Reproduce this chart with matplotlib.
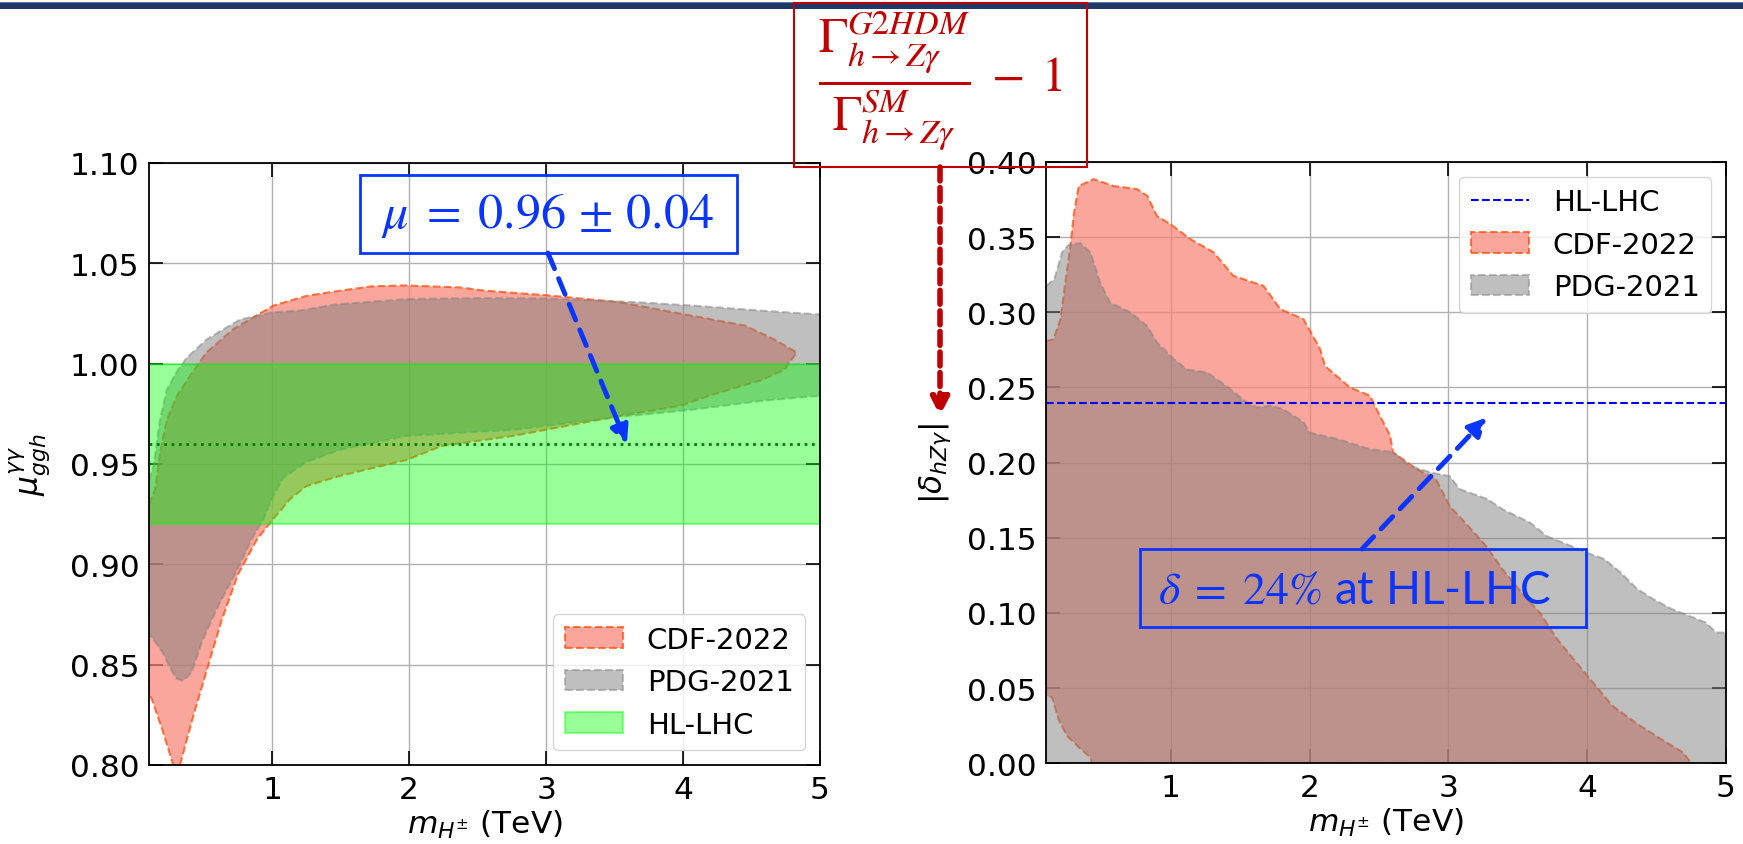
import numpy as np
import matplotlib
matplotlib.use('Agg')
import matplotlib.pyplot as plt
from matplotlib.patches import Rectangle

# ---- left panel: mu_ggh^gamma-gamma vs charged Higgs mass ----
cdf_mu_hi_x = [0.10, 0.13, 0.146, 0.182, 0.23, 0.304, 0.40, 0.52, 0.716, 1.007, 1.25, 1.49,
               1.72, 1.96, 2.37, 2.55, 3.02, 3.54, 3.93, 4.45, 4.66, 4.83]
cdf_mu_hi = [0.930, 0.935, 0.938, 0.956, 0.972, 0.984, 0.994, 1.0056, 1.0172, 1.0289, 1.0338, 1.0363,
             1.0385, 1.039, 1.038, 1.0364, 1.034, 1.0306, 1.0256, 1.019, 1.0123, 1.0056]
cdf_mu_lo_x = [0.10, 0.12, 0.20, 0.25, 0.29, 0.31, 0.33, 0.43, 0.53, 0.63, 0.75, 0.89, 1.007,
               1.13, 1.25, 1.49, 1.98, 2.24, 2.76, 3.15, 3.54, 3.98, 4.19, 4.58, 4.74, 4.83]
cdf_mu_lo = [0.835, 0.833, 0.817, 0.806, 0.797, 0.797, 0.801, 0.826, 0.849, 0.872, 0.895, 0.9126, 0.9225,
             0.9325, 0.939, 0.944, 0.952, 0.959, 0.964, 0.969, 0.974, 0.979, 0.984, 0.992, 0.997, 1.0056]

pdg_mu_hi_x = [0.10, 0.133, 0.18, 0.23, 0.30, 0.376, 0.52, 0.64, 0.765, 1.007, 1.2, 1.46, 1.98,
               2.5, 3.02, 3.67, 4.06, 4.58, 5.0]
pdg_mu_hi = [0.942, 0.949, 0.972, 0.987, 0.9957, 1.003, 1.012, 1.017, 1.022, 1.0256, 1.0265, 1.0295, 1.0322,
             1.0327, 1.0325, 1.0306, 1.029, 1.0264, 1.0245]
pdg_mu_lo_x = [0.10, 0.15, 0.20, 0.25, 0.30, 0.35, 0.41, 0.49, 0.61, 0.735, 0.85, 0.935, 1.007,
               1.08, 1.25, 1.49, 1.98, 2.76, 3.54, 4.06, 4.58, 5.0]
pdg_mu_lo = [0.865, 0.861, 0.856, 0.849, 0.843, 0.842, 0.846, 0.862, 0.880, 0.896, 0.9126, 0.9225, 0.934,
             0.943, 0.951, 0.957, 0.964, 0.967, 0.9735, 0.977, 0.9815, 0.984]

mu_central = 0.96
mu_err = 0.04

# ---- right panel: |delta_hZgamma| vs charged Higgs mass ----
cdf_d_x = [0.10, 0.154, 0.204, 0.24, 0.276, 0.30, 0.336, 0.443, 0.587, 0.756, 0.83, 0.90, 0.996,
           1.14, 1.307, 1.45, 1.667, 1.79, 1.955, 2.076, 2.11, 2.29, 2.435, 2.507, 2.58, 2.60,
           2.77, 2.91, 3.01, 3.16, 3.27, 3.39, 3.47, 3.54, 3.66, 3.78, 3.98, 4.18, 4.38, 4.53,
           4.69, 4.75]
cdf_d = [0.281, 0.282, 0.2955, 0.320, 0.344, 0.365, 0.384, 0.3886, 0.384, 0.382, 0.3775, 0.364, 0.3587,
         0.3487, 0.340, 0.3243, 0.3176, 0.302, 0.2955, 0.2755, 0.2644, 0.250, 0.2445, 0.231, 0.218, 0.207,
         0.1957, 0.189, 0.171, 0.156, 0.1447, 0.129, 0.120, 0.112, 0.100, 0.083, 0.0605, 0.0383, 0.025, 0.0162,
         0.0073, 0.0]
cdf_d_low_x = [0.43, 0.42, 0.35, 0.25, 0.19, 0.144, 0.10]
cdf_d_low = [0.0, 0.004, 0.0095, 0.0184, 0.0295, 0.0439, 0.045]

pdg_d_x = [0.10, 0.16, 0.216, 0.264, 0.348, 0.42, 0.49, 0.56, 0.708, 0.828, 0.90, 1.02, 1.116,
           1.26, 1.40, 1.548, 1.62, 1.72, 1.81, 1.955, 2.0, 2.2, 2.435, 2.6, 2.72, 2.87, 3.01,
           3.08, 3.28, 3.39, 3.59, 3.71, 3.88, 4.0, 4.12, 4.24, 4.36, 4.48, 4.61, 4.85, 4.93, 5.0]
pdg_d = [0.3176, 0.322, 0.340, 0.345, 0.346, 0.340, 0.320, 0.3066, 0.300, 0.291, 0.280, 0.269, 0.262,
         0.260, 0.251, 0.240, 0.2367, 0.238, 0.2356, 0.227, 0.220, 0.2157, 0.209, 0.207, 0.198, 0.1935, 0.191,
         0.1824, 0.1758, 0.169, 0.160, 0.151, 0.1447, 0.140, 0.136, 0.127, 0.116, 0.109, 0.1026, 0.0938, 0.087, 0.087]

hl_lhc_delta = 0.24

W, H = 1743, 845
BLUE = '#0a35ff'
RED = '#c00000'
FS = 22.5


def fpos(px, py):
    # figure pixel (from top-left) -> figure fraction
    return px / W, 1 - py / H


fig = plt.figure(figsize=(W / 100, H / 100), dpi=100)

ax1 = fig.add_axes([149 / W, 1 - 766 / H, 671 / W, 602 / H])
ax2 = fig.add_axes([1046 / W, 1 - 764.3 / H, 680 / W, 601.3 / H])

for ax in (ax1, ax2):
    ax.set_axisbelow(True)
    ax.grid(True, color='#b0b0b0', lw=1)
    ax.tick_params(direction='in', top=True, right=True, length=10, width=1.2, labelsize=FS)
    ax.tick_params(axis='x', pad=7)
    ax.tick_params(axis='y', pad=7)
    for sp in ax.spines.values():
        sp.set_linewidth(1.3)
    ax.set_xlim(0.1, 5)
    ax.set_xticks([1, 2, 3, 4, 5])
    ax.set_xlabel(r'$m_{H^{\pm}}$ (TeV)', fontsize=FS, labelpad=3)

# left
cdf_poly_x = np.concatenate([cdf_mu_hi_x, cdf_mu_lo_x[::-1]])
cdf_poly_y = np.concatenate([cdf_mu_hi, cdf_mu_lo[::-1]])
pdg_poly_x = np.concatenate([pdg_mu_hi_x, pdg_mu_lo_x[::-1]])
pdg_poly_y = np.concatenate([pdg_mu_hi, pdg_mu_lo[::-1]])
h_cdf1, = ax1.fill(cdf_poly_x, cdf_poly_y, facecolor='salmon', edgecolor='orangered',
                   alpha=0.7, linestyle='--', lw=1.5, label='CDF-2022')
h_pdg1, = ax1.fill(pdg_poly_x, pdg_poly_y, facecolor='gray', edgecolor='gray',
                   alpha=0.5, linestyle='--', lw=1.5, label='PDG-2021')
h_hl1 = ax1.axhspan(mu_central - mu_err, mu_central + mu_err, color='lime', alpha=0.4, lw=1.5,
                    label='HL-LHC')
ax1.axhline(mu_central, color='green', ls=':', lw=2)
ax1.set_ylim(0.80, 1.10)
ax1.set_yticks(np.arange(0.80, 1.101, 0.05))
ax1.yaxis.set_major_formatter(matplotlib.ticker.FormatStrFormatter('%.2f'))
ax1.set_ylabel(r'$\mu^{\gamma\gamma}_{ggh}$', fontsize=FS)
ax1.yaxis.set_label_coords(-0.143, 0.5)
ax1.legend(handles=[h_cdf1, h_pdg1, h_hl1], loc='lower right', fontsize=21)

# right
h_hl2 = ax2.axhline(hl_lhc_delta, color='blue', ls='--', lw=1.5, label='HL-LHC')
cdf2_x = np.concatenate([cdf_d_x, cdf_d_low_x])
cdf2_y = np.concatenate([cdf_d, cdf_d_low])
pdg2_x = np.concatenate([pdg_d_x, [5.0, 0.1]])
pdg2_y = np.concatenate([pdg_d, [0.0, 0.0]])
h_cdf2, = ax2.fill(cdf2_x, cdf2_y, facecolor='salmon', edgecolor='orangered',
                   alpha=0.7, linestyle='--', lw=1.5, label='CDF-2022')
h_pdg2, = ax2.fill(pdg2_x, pdg2_y, facecolor='gray', edgecolor='gray',
                   alpha=0.5, linestyle='--', lw=1.5, label='PDG-2021')
ax2.set_ylim(0.0, 0.40)
ax2.set_yticks(np.arange(0.0, 0.401, 0.05))
ax2.yaxis.set_major_formatter(matplotlib.ticker.FormatStrFormatter('%.2f'))
ax2.set_ylabel(r'$|\delta_{hZ\gamma}|$', fontsize=FS)
ax2.yaxis.set_label_coords(-0.137, 0.5)
ax2.legend(handles=[h_hl2, h_cdf2, h_pdg2], loc='upper right', fontsize=21)

# slide header bar
fig.add_artist(Rectangle((0, 1 - 10 / H), 1, 7.3 / H, transform=fig.transFigure,
                         facecolor='#1f3864', edgecolor='none'))
fig.add_artist(Rectangle((0, 1 - 4 / H), 1, 1.5 / H, transform=fig.transFigure,
                         facecolor='#5b7bb0', edgecolor='none'))

# red definition box + arrow to the y label
fig.add_artist(Rectangle(fpos(794, 168), 293 / W, 164 / H, transform=fig.transFigure,
                         fill=False, edgecolor=RED, lw=1.5))
fig.text(*fpos(940, 81),
         r'$\dfrac{\Gamma^{G2HDM}_{h\rightarrow Z\gamma}}{\Gamma^{SM}_{h\rightarrow Z\gamma}}\;-\;1$',
         color=RED, fontsize=35, ha='center', va='center', math_fontfamily='stix')
fig.add_artist(matplotlib.patches.FancyArrowPatch(
    fpos(940, 168), fpos(940, 417), transform=fig.transFigure,
    arrowstyle='-|>', mutation_scale=27, color=RED, lw=4, linestyle=(0, (2.5, 1.2)),
    shrinkA=0, shrinkB=0))

# blue callout, left panel
fig.add_artist(Rectangle(fpos(360, 254), 377 / W, 78 / H, transform=fig.transFigure,
                         fill=False, edgecolor=BLUE, lw=2))
fig.text(*fpos(548, 216), r'$\mu\;=\;0.96\,\pm\,0.04$', color=BLUE, fontsize=36,
         ha='center', va='center', math_fontfamily='stix')
ax1.annotate('', xy=(3.59, mu_central), xycoords='data',
             xytext=fpos(548, 254), textcoords='figure fraction',
             arrowprops=dict(arrowstyle='-|>', mutation_scale=27, color=BLUE, lw=3.5,
                             linestyle=(0, (3.5, 2.2)), shrinkA=0, shrinkB=0))

# blue callout, right panel
fig.add_artist(Rectangle(fpos(1140, 628), 446 / W, 78 / H, transform=fig.transFigure,
                         fill=False, edgecolor=BLUE, lw=2))
fig.text(*fpos(1354, 590), r'$\delta\;=\;24\%$ at HL-LHC', color=BLUE, fontsize=33,
         family='Lato', ha='center', va='center', math_fontfamily='stix')
ax2.annotate('', xy=(3.275, 0.230), xycoords='data',
             xytext=fpos(1362, 550), textcoords='figure fraction',
             arrowprops=dict(arrowstyle='-|>', mutation_scale=27, color=BLUE, lw=3.5,
                             linestyle=(0, (3.5, 2.2)), shrinkA=0, shrinkB=0))

fig.savefig('out.png', dpi=100)
